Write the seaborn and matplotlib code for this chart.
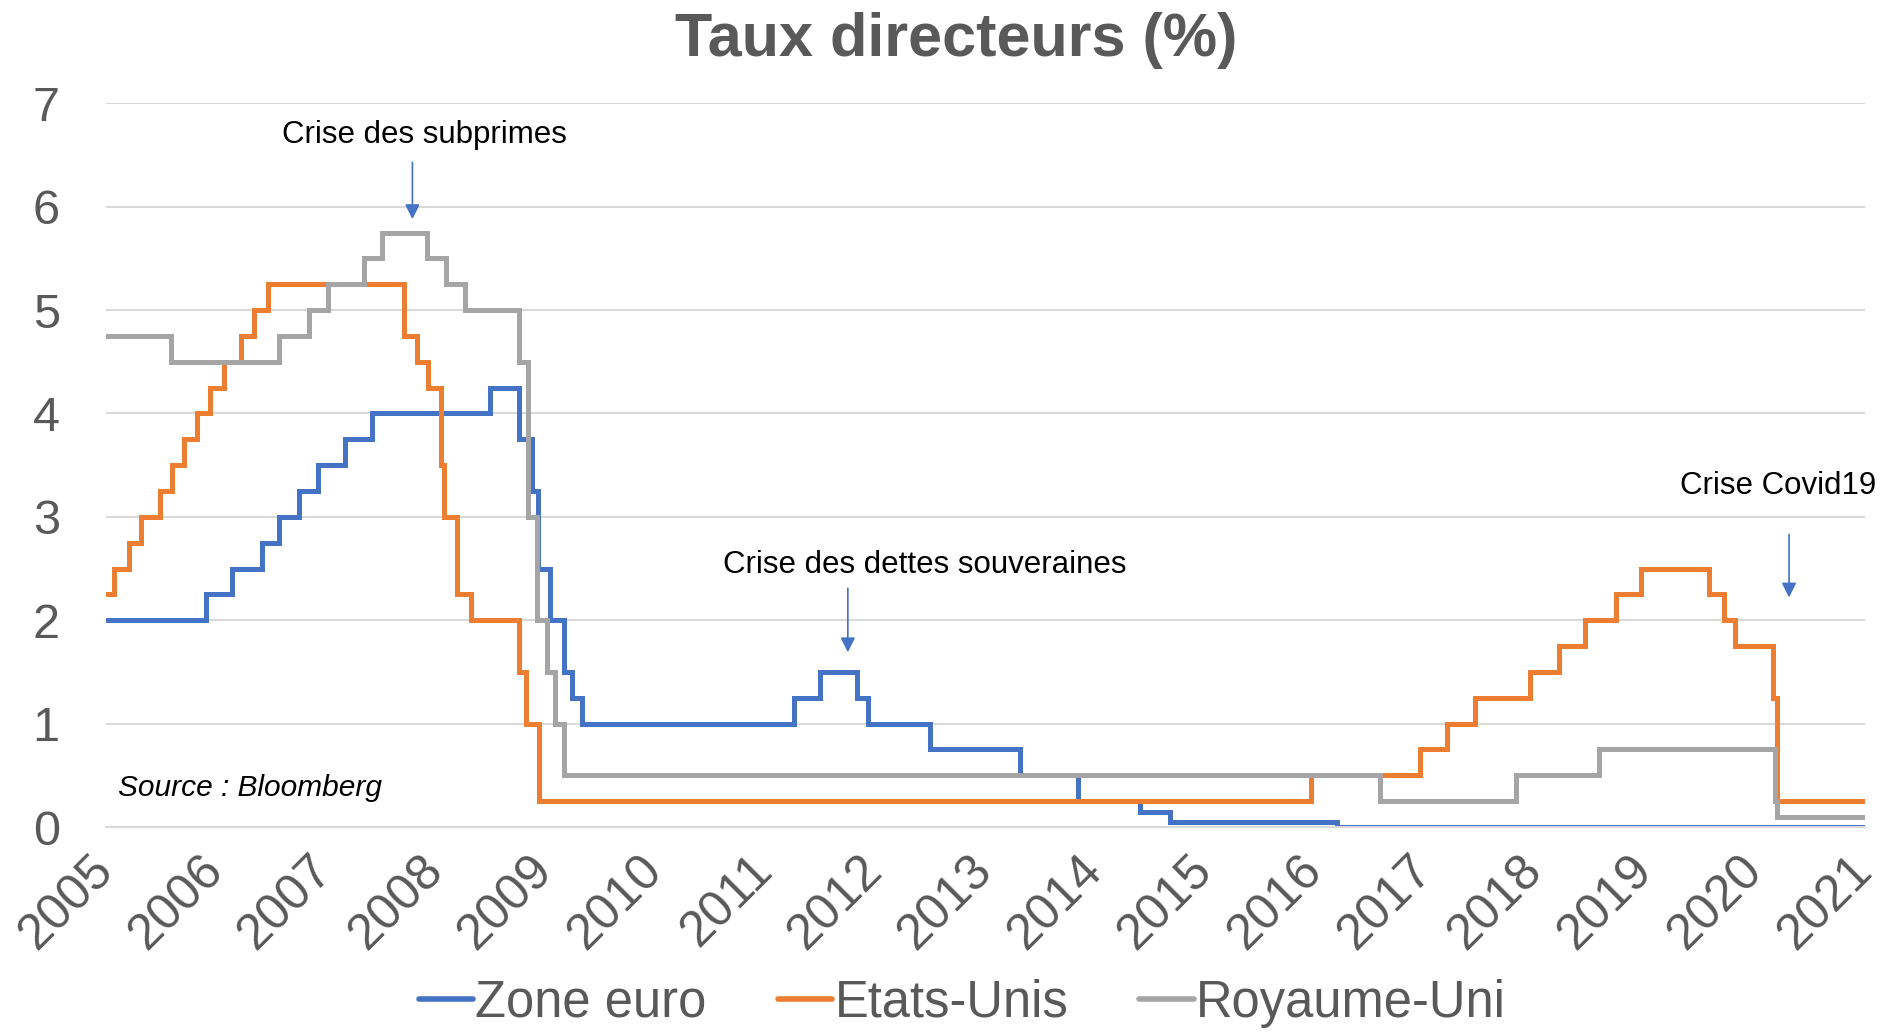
import matplotlib
matplotlib.use("Agg")
import matplotlib.pyplot as plt
import seaborn as sns
import pandas as pd

# ---- data (decimal year of each rate change, rate in %) ----
euro_dates = [2005.0, 2005.91, 2006.15, 2006.42, 2006.58, 2006.76, 2006.93, 2007.18, 2007.42,
              2008.50, 2008.76, 2008.88, 2008.93, 2009.04, 2009.17, 2009.24, 2009.33,
              2011.26, 2011.50, 2011.83, 2011.93, 2012.50, 2013.32, 2013.84, 2014.41,
              2014.68, 2016.20, 2021.0]
euro_rates = [2.0, 2.25, 2.5, 2.75, 3.0, 3.25, 3.5, 3.75, 4.0,
              4.25, 3.75, 3.25, 2.5, 2.0, 1.5, 1.25, 1.0,
              1.25, 1.5, 1.25, 1.0, 0.75, 0.5, 0.25, 0.15,
              0.05, 0.0, 0.0]

us_dates = [2005.0, 2005.08, 2005.21, 2005.32, 2005.49, 2005.60, 2005.71, 2005.83, 2005.95,
            2006.08, 2006.23, 2006.35, 2006.48, 2007.71, 2007.83, 2007.93, 2008.05, 2008.08,
            2008.20, 2008.32, 2008.76, 2008.82, 2008.94, 2015.96, 2016.95, 2017.20, 2017.45,
            2017.95, 2018.22, 2018.45, 2018.74, 2018.96, 2019.58, 2019.72, 2019.82, 2020.16,
            2020.20, 2021.0]
us_rates = [2.25, 2.5, 2.75, 3.0, 3.25, 3.5, 3.75, 4.0, 4.25,
            4.5, 4.75, 5.0, 5.25, 4.75, 4.5, 4.25, 3.5, 3.0,
            2.25, 2.0, 1.5, 1.0, 0.25, 0.5, 0.75, 1.0, 1.25,
            1.5, 1.75, 2.0, 2.25, 2.5, 2.25, 2.0, 1.75, 1.25,
            0.25, 0.25]

uk_dates = [2005.0, 2005.59, 2006.58, 2006.85, 2007.02, 2007.35, 2007.51, 2007.92, 2008.10,
            2008.27, 2008.76, 2008.84, 2008.92, 2009.01, 2009.09, 2009.17, 2016.59, 2017.83,
            2018.58, 2020.18, 2020.20, 2021.0]
uk_rates = [4.75, 4.5, 4.75, 5.0, 5.25, 5.5, 5.75, 5.5, 5.25,
            5.0, 4.5, 3.0, 2.0, 1.5, 1.0, 0.5, 0.25, 0.5,
            0.75, 0.25, 0.1, 0.1]

series_names = ["Zone euro", "Etats-Unis", "Royaume-Uni"]
year_ticks = list(range(2005, 2022))
y_ticks = list(range(0, 8))

title = "Taux directeurs (%)"
annotations = [
    ("Crise des subprimes", 2007.90, 6.69, 2007.79, 6.43, 5.88),
    ("Crise des dettes souveraines", 2012.45, 2.53, 2011.75, 2.31, 1.69),
    ("Crise Covid19", 2020.21, 3.30, 2020.31, 2.83, 2.22),
]
source_text = "Source : Bloomberg"

# ---- build long table ----
frames = []
for name, d, r in zip(series_names, [euro_dates, us_dates, uk_dates], [euro_rates, us_rates, uk_rates]):
    frames.append(pd.DataFrame({"date": d, "taux": r, "serie": name}))
df = pd.concat(frames, ignore_index=True)

sns.set_theme(style="white")
plt.rcParams["font.family"] = ["Liberation Sans", "DejaVu Sans"]

palette = {"Zone euro": "#4472C4", "Etats-Unis": "#ED7D31", "Royaume-Uni": "#A5A5A5"}
txt_col = "#595959"

fig = plt.figure(figsize=(18.83, 10.33), dpi=100)
ax = fig.add_axes([0.0561, 0.1994, 0.9343, 0.7006])

for name in series_names:
    sub = df[df["serie"] == name]
    sns.lineplot(data=sub, x="date", y="taux", ax=ax, color=palette[name], label=name,
                 drawstyle="steps-post", linewidth=3.6, estimator=None, sort=False,
                 solid_joinstyle="miter")

ax.set_xlim(2005, 2021)
ax.set_ylim(0, 7)
ax.set_xticks(year_ticks)
ax.set_xticklabels([str(y) for y in year_ticks], rotation=45, ha="right", va="center",
                   rotation_mode="anchor", fontsize=36, color=txt_col)
ax.set_yticks(y_ticks)
ax.set_yticklabels([str(y) for y in y_ticks], fontsize=35, color=txt_col)
ax.tick_params(axis="x", which="major", direction="out", length=8, width=1.5,
               color="#D9D9D9", pad=18)
ax.tick_params(axis="y", length=0, pad=33)
ax.grid(axis="y", color="#D9D9D9", linewidth=1.5)
ax.set_axisbelow(True)
for s in ["left", "right", "top"]:
    ax.spines[s].set_visible(False)
ax.spines["bottom"].set_color("#D9D9D9")
ax.spines["bottom"].set_linewidth(1.5)
ax.set_xlabel("")
ax.set_ylabel("")

fig.text(0.508, 0.961, title, ha="center", va="center", fontsize=44,
         fontweight="bold", color=txt_col)

for label, tx, ty, axx, ay0, ay1 in annotations:
    ax.text(tx, ty, label, ha="center", va="center", fontsize=22.5, color="black", clip_on=False)
    ax.annotate("", xy=(axx, ay1), xytext=(axx, ay0),
                arrowprops=dict(arrowstyle="-|>", color="#4472C4", lw=1.2,
                                mutation_scale=22, shrinkA=0, shrinkB=0))

ax.text(2005.11, 0.38, source_text, ha="left", va="center", fontsize=21.5,
        style="italic", color="black")

leg = ax.legend(loc="center", bbox_to_anchor=(0.511, 0.029),
                bbox_transform=fig.transFigure, ncol=3, frameon=False, fontsize=36.5,
                handlelength=1.07, handletextpad=0.05, columnspacing=1.4,
                borderaxespad=0.0, borderpad=0.0)
for t in leg.get_texts():
    t.set_color(txt_col)
for h in leg.get_lines():
    h.set_linewidth(4)

fig.savefig("out.png", dpi=100)
